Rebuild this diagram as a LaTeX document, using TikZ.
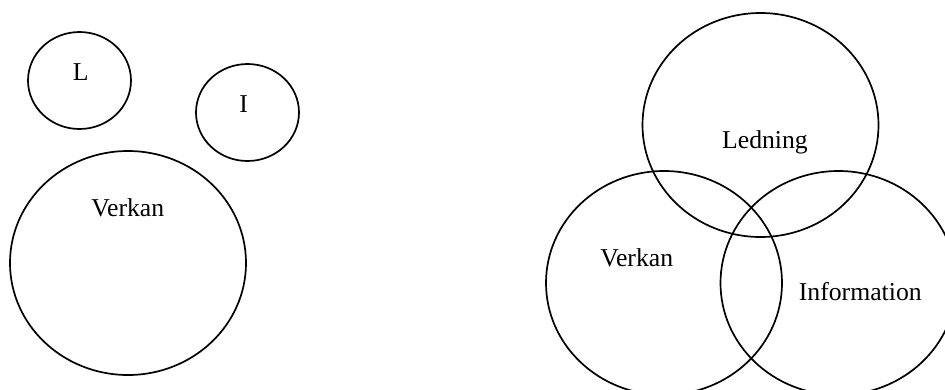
\documentclass[tikz,border=0pt]{standalone}
\usepackage{fontspec}
\setmainfont{Liberation Serif}
\begin{document}
\begin{tikzpicture}[x=1pt,y=-1pt,
  ring/.style={draw=black,line width=1.7pt},
  lbl/.style={anchor=base,inner sep=0pt,font=\fontsize{25.7}{30}\selectfont}]
\useasboundingbox (0,0) rectangle (945,389);
\clip (0,0) rectangle (945,389);
% left group
\draw[ring] (79.5,80.5) ellipse [x radius=51.5pt,y radius=48.5pt];
\draw[ring] (247.5,112.5) ellipse [x radius=51.5pt,y radius=48.5pt];
\draw[ring] (128,263) ellipse [x radius=118pt,y radius=112pt];
\node[lbl] (tL) at (80.7,80.7) {L};
\node[lbl] (tI) at (243.7,112.7) {I};
\node[lbl] (tV1) at (127.8,216.7) {Verkan};
% right group
\draw[ring] (760.5,125) ellipse [x radius=118pt,y radius=112pt];
\draw[ring] (664,283) ellipse [x radius=118pt,y radius=112pt];
\draw[ring] (838.5,283) ellipse [x radius=118pt,y radius=112pt];
\node[lbl] (tLed) at (765,148.3) {Ledning};
\node[lbl] (tV2) at (636.7,266) {Verkan};
\node[lbl] (tInf) at (860.3,300) {Information};
\end{tikzpicture}
\end{document}
